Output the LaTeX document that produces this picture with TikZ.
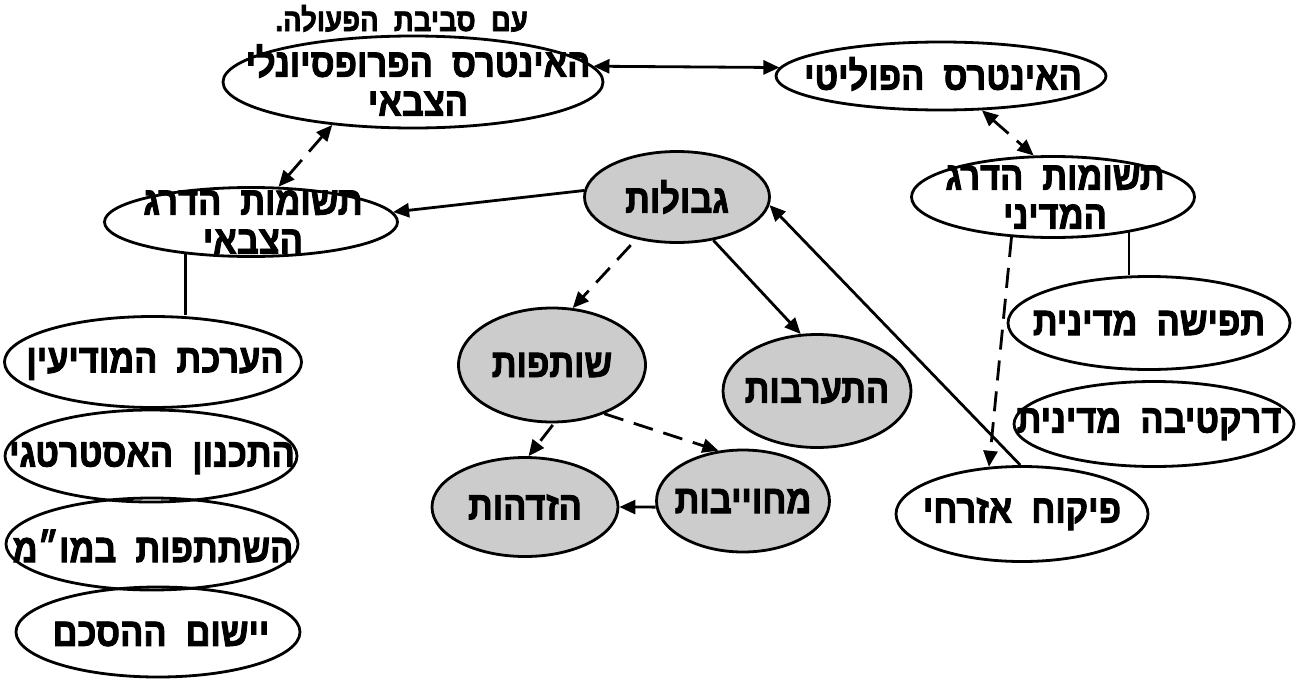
\documentclass[tikz,border=0pt]{standalone}
\usepackage{fontspec}
\usetikzlibrary{shapes.geometric,arrows.meta,calc}
\TeXXeTstate=1
\newfontfamily\heb[Script=Hebrew,WordSpace=2.0,FakeStretch=0.86,FakeBold=2.2]{Liberation Sans Bold}
\tikzset{
  ov/.style={draw, ellipse, line width=2.8pt, inner sep=0pt},
  gov/.style={ov, fill=black!20},
  lbl/.style={font=\heb\fontsize{40}{39}\selectfont, align=center, inner sep=0pt},
  caplbl/.style={font=\heb\fontsize{32}{34}\selectfont, inner sep=0pt},
  con/.style={line width=2.8pt},
  tip/.style={-{Triangle[length=16pt,width=14pt]}},
  dtip/.style={{Triangle[length=16pt,width=14pt]}-{Triangle[length=16pt,width=14pt]}},
  dsh/.style={dash pattern=on 20pt off 11pt},
}
\begin{document}
\begin{tikzpicture}[x=1pt,y=-1pt]
\useasboundingbox (0,0) rectangle (1298,680);
\clip (0,0) rectangle (1298,680);
\fill[white] (0,0) rectangle (1298,680);
% caption
\node[caplbl, anchor=base east] (cap) at (528,31) {\beginR עם סביבת הפעולה.\endR};
% top row
\node[ov, minimum width=380pt, minimum height=92pt] (prof) at (413,82) {};
\node[lbl] (proft) at (418,80) {\beginR האינטרס הפרופסיונלי\endR\\\beginR הצבאי\endR};
\node[ov, minimum width=330pt, minimum height=68pt] (pol) at (941,76) {};
\node[lbl] (polt) at (943,74) {\beginR האינטרס הפוליטי\endR};
% inputs
\node[ov, minimum width=293pt, minimum height=69pt] (mil) at (251,222) {};
\node[lbl] (milt) at (253,222) {\beginR תשומות הדרג\endR\\\beginR הצבאי\endR};
\node[ov, minimum width=283pt, minimum height=81pt] (state) at (1053,197) {};
\node[lbl] (statet) at (1055,197) {\beginR תשומות הדרג\endR\\\beginR המדיני\endR};
% grey nodes
\node[gov, minimum width=185pt, minimum height=91pt] (gvul) at (677,197) {};
\node[lbl] (gvult) at (gvul) {\beginR גבולות\endR};
\node[gov, minimum width=187pt, minimum height=114pt] (shut) at (552,365) {};
\node[lbl] (shutt) at (shut) {\beginR שותפות\endR};
\node[gov, minimum width=188pt, minimum height=113pt] (hit) at (817,391) {};
\node[lbl] (hitt) at (hit) {\beginR התערבות\endR};
\node[gov, minimum width=186pt, minimum height=99pt] (hiz) at (525,507) {};
\node[lbl] (hizt) at (hiz) {\beginR הזדהות\endR};
\node[gov, minimum width=173pt, minimum height=102pt] (mech) at (743,501) {};
\node[lbl] (mecht) at (mech) {\beginR מחוייבות\endR};
% right side
\node[ov, minimum width=282pt, minimum height=93pt] (tfis) at (1149,323) {};
\node[lbl] (tfist) at (tfis) {\beginR תפישה מדינית\endR};
\node[ov, minimum width=280pt, minimum height=85pt] (drek) at (1154,424) {};
\node[lbl] (drekt) at (1149,424) {\beginR דרקטיבה מדינית\endR};
\node[ov, minimum width=252pt, minimum height=95pt] (pik) at (1022,514) {};
\node[lbl] (pikt) at (pik) {\beginR פיקוח אזרחי\endR};
% left column
\node[ov, minimum width=297pt, minimum height=91pt] (l1) at (153,362) {};
\node[lbl] (l1t) at (155,364) {\beginR הערכת המודיעין\endR};
\node[ov, minimum width=292pt, minimum height=92pt] (l2) at (151,456) {};
\node[lbl] (l2t) at (152,458) {\beginR התכנון האסטרטגי\endR};
\node[ov, minimum width=292pt, minimum height=92pt] (l3) at (152,544) {};
\node[lbl] (l3t) at (153,546) {\beginR השתתפות במו״מ\endR};
\node[ov, minimum width=284pt, minimum height=90pt] (l4) at (158,632) {};
\node[lbl] (l4t) at (161,634) {\beginR יישום ההסכם\endR};
% connectors
\draw[con, dtip] (prof.5) -- (pol.177);
\draw[con, dtip, dsh] (prof.208) -- (mil.52);
\draw[con, dtip, dsh] (pol.-40) -- (state.115);
\draw[con, tip] (gvul.176) -- (mil.4);
\draw[con, tip, dsh, shorten <=8pt] (gvul.-134) -- (shut.70);
\draw[con, tip] (gvul.-50) -- (hit.106);
\draw[con, tip] (pik.92) -- (gvul.-5);
\draw[con, tip, dsh] (state.-136) -- (pik.125);
\draw[con] (state.-25) -- (state.-25 |- tfis.north);
\draw[con] (mil.206) -- (mil.206 |- l1.north);
\draw[con, tip, dsh, shorten <=2pt] (shut.-88) -- (hiz.86);
\draw[con, tip, dsh] (shut.-43) -- (mech.116);
\draw[con, tip, dash pattern=on 22pt off 6pt] (mech.184) -- (hiz.east);
\end{tikzpicture}
\end{document}
